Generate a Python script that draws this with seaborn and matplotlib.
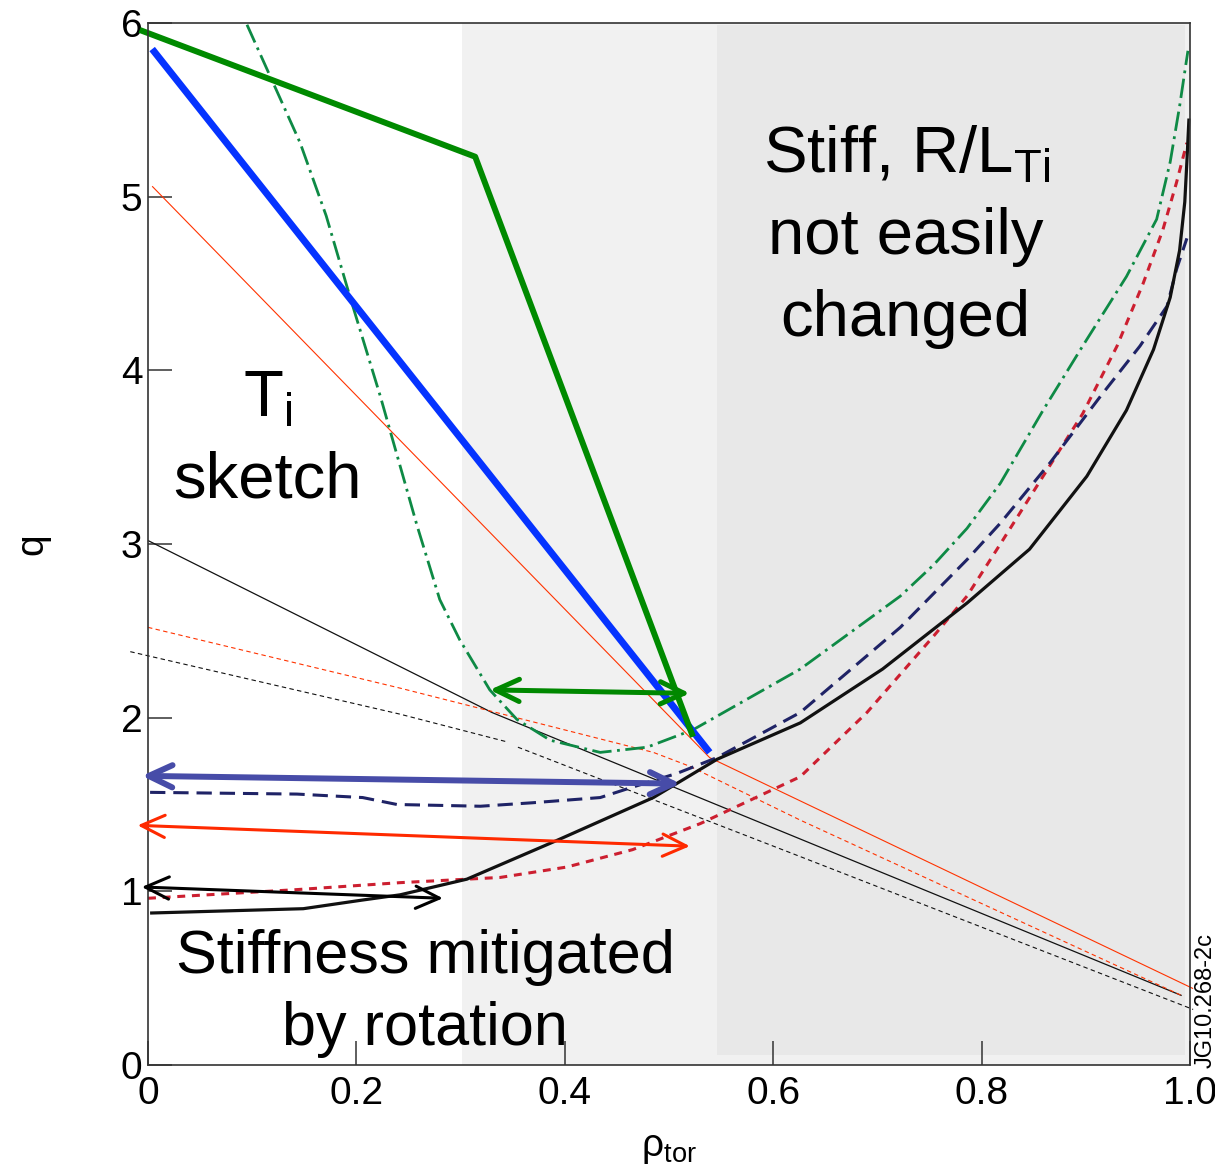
import numpy as np
import pandas as pd
import matplotlib
matplotlib.use('Agg')
import matplotlib.pyplot as plt
import seaborn as sns

# zones (rho_tor)
mitigated_zone = (0.301, 0.546)
stiff_zone = (0.546, 0.995)

# T_i sketch lines
green_sketch_x = [-0.008, 0.314, 0.523]
green_sketch_y = [5.96, 5.23, 1.89]
blue_sketch_x = [0.004, 0.539]
blue_sketch_y = [5.85, 1.80]
red_sketch_x = [0.004, 0.539, 1.003]
red_sketch_y = [5.06, 1.77, 0.44]
black_sketch_x = [0.0, 0.33, 0.992]
black_sketch_y = [3.02, 2.03, 0.40]
red_dotted_x = [0.0, 0.242, 0.485, 0.52, 0.626, 0.992]
red_dotted_y = [2.52, 2.17, 1.80, 1.72, 1.41, 0.40]
black_dotted_a_x = [-0.017, 0.242, 0.345]
black_dotted_a_y = [2.38, 2.02, 1.86]
black_dotted_b_x = [0.355, 0.626, 1.003]
black_dotted_b_y = [1.83, 1.20, 0.32]

# q profiles
q_green_x = [0.095, 0.119, 0.146, 0.171, 0.194, 0.223, 0.258, 0.280, 0.299, 0.328,
             0.354, 0.386, 0.434, 0.479, 0.523, 0.626, 0.722, 0.754, 0.786, 0.818,
             0.859, 0.897, 0.939, 0.968, 0.981, 0.990, 0.998]
q_green_y = [5.99, 5.67, 5.31, 4.89, 4.42, 3.85, 3.11, 2.68, 2.45, 2.16,
             1.99, 1.87, 1.80, 1.83, 1.93, 2.28, 2.70, 2.88, 3.09, 3.35,
             3.77, 4.14, 4.54, 4.87, 5.20, 5.52, 5.84]
q_navy_x = [0.002, 0.143, 0.206, 0.239, 0.319, 0.369, 0.434, 0.465, 0.508, 0.546,
            0.626, 0.722, 0.786, 0.818, 0.866, 0.914, 0.952, 0.978, 0.987, 0.997]
q_navy_y = [1.57, 1.56, 1.54, 1.50, 1.49, 1.51, 1.54, 1.60, 1.68, 1.77,
            2.03, 2.52, 2.91, 3.12, 3.47, 3.85, 4.14, 4.37, 4.58, 4.76]
q_red_x = [0.0, 0.143, 0.242, 0.338, 0.402, 0.465, 0.530, 0.594, 0.626, 0.690,
           0.754, 0.786, 0.818, 0.859, 0.897, 0.930, 0.955, 0.974, 0.987, 0.997]
q_red_y = [0.96, 1.01, 1.05, 1.08, 1.14, 1.24, 1.39, 1.57, 1.66, 2.03,
           2.47, 2.70, 3.00, 3.39, 3.75, 4.14, 4.50, 4.81, 5.08, 5.31]
q_black_x = [0.002, 0.149, 0.206, 0.242, 0.306, 0.395, 0.485, 0.546, 0.626, 0.705,
             0.754, 0.786, 0.846, 0.901, 0.939, 0.965, 0.981, 0.990, 0.995, 0.997, 0.999]
q_black_y = [0.875, 0.90, 0.95, 0.98, 1.07, 1.30, 1.54, 1.76, 1.97, 2.28,
             2.51, 2.66, 2.97, 3.39, 3.77, 4.12, 4.42, 4.69, 4.97, 5.20, 5.45]

# double-headed arrows: (x_left, y_left) <-> (x_right, y_right)
arrow_x_left = [0.328, -0.006, -0.010, -0.006]
arrow_y_left = [2.16, 1.665, 1.38, 1.025]
arrow_x_right = [0.520, 0.511, 0.520, 0.283]
arrow_y_right = [2.14, 1.62, 1.26, 0.96]
arrow_colors = ['#008800', '#474ca8', '#ff2a00', '#000000']
arrow_widths = [3.6, 4.3, 2.2, 2.2]

xticks = [0, 0.2, 0.4, 0.6, 0.8, 1.0]
xtick_labels = ['0', '0.2', '0.4', '0.6', '0.8', '1.0']
yticks = [0, 1, 2, 3, 4, 5, 6]

sns.set_style('ticks')
plt.rcParams['font.family'] = ['Liberation Sans', 'DejaVu Sans']
plt.rcParams['mathtext.fontset'] = 'custom'
plt.rcParams['mathtext.rm'] = 'Liberation Sans'
plt.rcParams['mathtext.it'] = 'Liberation Sans:italic'
plt.rcParams['text.color'] = 'black'
plt.rcParams['axes.labelcolor'] = 'black'
plt.rcParams['xtick.labelcolor'] = 'black'
plt.rcParams['ytick.labelcolor'] = 'black'

fig = plt.figure(figsize=(12.15, 11.75), dpi=100)
ax = fig.add_axes([148 / 1215, 110 / 1175, 1042 / 1215, 1042 / 1175])

# background zones
ax.axvspan(mitigated_zone[0], 1.0, color='#f1f1f1', lw=0, zorder=0)
ax.fill_between(stiff_zone, 0.058, 5.99, color='#e8e8e8', lw=0, zorder=0)


def line(x, y, color, lw, ls='-'):
    d = pd.DataFrame({'x': x, 'y': y})
    sns.lineplot(data=d, x='x', y='y', ax=ax, color=color, lw=lw, linestyle=ls,
                 sort=False, estimator=None, clip_on=False,
                 solid_capstyle='butt', solid_joinstyle='round')


# sketch lines
line(black_sketch_x, black_sketch_y, '#111111', 0.9)
line(red_sketch_x, red_sketch_y, '#ff3300', 0.8)
line(red_dotted_x, red_dotted_y, '#ff3300', 0.8, (0, (4, 3)))
line(black_dotted_a_x, black_dotted_a_y, '#111111', 0.8, (0, (4, 3)))
line(black_dotted_b_x, black_dotted_b_y, '#111111', 0.8, (0, (4, 3)))

# q profiles
line(q_red_x, q_red_y, '#cc1f30', 2.2, (0, (2.6, 2.2)))
line(q_navy_x, q_navy_y, '#1f2366', 2.2, (0, (5, 2.6)))
line(q_green_x, q_green_y, '#0e8a45', 2.0, (0, (7, 2, 1, 2)))
line(q_black_x, q_black_y, '#111111', 2.3)

line(blue_sketch_x, blue_sketch_y, '#0533ff', 5.0)
line(green_sketch_x, green_sketch_y, '#008a00', 4.3)

for xl, yl, xr, yr, c, w in zip(arrow_x_left, arrow_y_left, arrow_x_right, arrow_y_right,
                                arrow_colors, arrow_widths):
    ax.annotate('', xy=(xr, yr), xytext=(xl, yl), annotation_clip=False,
                arrowprops=dict(arrowstyle='<->,head_length=0.85,head_width=0.4',
                                color=c, lw=w, shrinkA=0, shrinkB=0,
                                mutation_scale=20), zorder=5)

# annotations
ax.text(0.115, 3.73, 'T$_\\mathregular{i}$', fontsize=47, ha='center', va='baseline')
ax.text(0.115, 3.27, 'sketch', fontsize=47, ha='center', va='baseline')
ax.text(0.728, 5.14, 'Stiff, R/L$_\\mathregular{Ti}$', fontsize=47, ha='center', va='baseline')
ax.text(0.727, 4.67, 'not easily', fontsize=47, ha='center', va='baseline')
ax.text(0.727, 4.20, 'changed', fontsize=47, ha='center', va='baseline')
ax.text(0.266, 0.53, 'Stiffness mitigated', fontsize=44, ha='center', va='baseline')
ax.text(0.266, 0.115, 'by rotation', fontsize=44, ha='center', va='baseline')

fig.text(1206 / 1215, 1 - 1000 / 1175, 'JG10.268-2c', fontsize=17, rotation=90,
         ha='center', va='center')

ax.set_xlim(0, 1.0)
ax.set_ylim(0, 6)
ax.set_xticks(xticks)
ax.set_xticklabels(xtick_labels)
ax.set_yticks(yticks)
ax.tick_params(axis='both', direction='in', length=17, width=1.1, color='#333333',
               labelsize=28, labelcolor='black', top=False, right=False)
ax.tick_params(axis='x', pad=8)
ax.tick_params(axis='y', pad=4)
for s in ax.spines.values():
    s.set_visible(True)
    s.set_color('#333333')
    s.set_linewidth(1.2)

ax.set_xlabel('ρ$_\\mathregular{tor}$', fontsize=28)
ax.set_ylabel('q', fontsize=28)
ax.xaxis.set_label_coords(0.5, -0.062)
ax.yaxis.set_label_coords(-0.094, 0.5)

fig.savefig('out.png', dpi=100)
